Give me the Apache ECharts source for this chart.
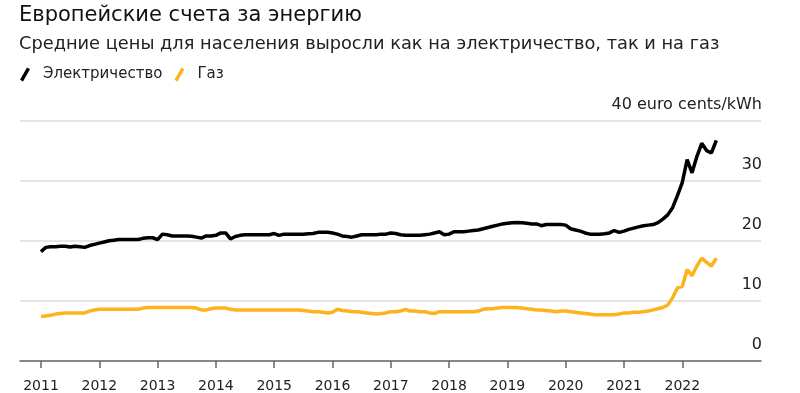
<!DOCTYPE html>
<html>
<head>
<meta charset="utf-8">
<script src="https://cdn.jsdelivr.net/npm/echarts@6/dist/echarts.min.js"></script>
<style>html,body{margin:0;padding:0;background:#fff}#c{width:800px;height:393px}</style>
</head>
<body>
<div id="c"></div>
<script>
// Monthly values, Jan 2011 .. Aug 2022 (euro cents/kWh)
const startYear = 2011;
const electricity = [
  18.2, 18.9, 19.0, 19.0, 19.1, 19.1, 18.95, 19.1, 19.0, 18.9, 19.2, 19.4,
  19.6, 19.8, 20.0, 20.1, 20.2, 20.2, 20.2, 20.2, 20.2, 20.4, 20.5, 20.5,
  20.2, 21.1, 21.0, 20.8, 20.8, 20.8, 20.8, 20.75, 20.6, 20.45, 20.8, 20.8,
  20.9, 21.3, 21.3, 20.3, 20.7, 20.9, 21.0, 21.0, 21.0, 21.0, 21.0, 21.0,
  21.2, 20.9, 21.1, 21.1, 21.1, 21.1, 21.1, 21.15, 21.2, 21.4, 21.4, 21.4,
  21.3, 21.1, 20.8, 20.7, 20.6, 20.8, 21.0, 21.0, 21.0, 21.0, 21.1, 21.1,
  21.3, 21.2, 21.0, 20.9, 20.9, 20.9, 20.9, 21.0, 21.1, 21.3, 21.5, 21.0,
  21.1, 21.5, 21.5, 21.5, 21.6, 21.7, 21.8, 22.0, 22.2, 22.4, 22.6, 22.8,
  22.9, 23.0, 23.05, 23.0, 22.9, 22.8, 22.8, 22.5, 22.7, 22.7, 22.7, 22.7,
  22.6, 22.0, 21.8, 21.6, 21.3, 21.1, 21.1, 21.1, 21.15, 21.3, 21.7, 21.4,
  21.6, 21.9, 22.1, 22.3, 22.5, 22.6, 22.7, 23.0, 23.6, 24.3, 25.5, 27.5,
  29.7, 33.5, 31.3, 34.0, 36.2, 35.0, 34.6, 36.7
];
const gas = [
  7.4, 7.5, 7.6, 7.8, 7.9, 8.0, 8.0, 8.0, 8.0, 8.0, 8.3, 8.5,
  8.6, 8.6, 8.6, 8.6, 8.6, 8.6, 8.6, 8.6, 8.6, 8.8, 8.9, 8.9,
  8.9, 8.9, 8.9, 8.9, 8.9, 8.9, 8.9, 8.9, 8.8, 8.5, 8.5, 8.7,
  8.8, 8.8, 8.8, 8.6, 8.5, 8.5, 8.5, 8.5, 8.5, 8.5, 8.5, 8.5,
  8.5, 8.5, 8.5, 8.5, 8.5, 8.5, 8.4, 8.3, 8.2, 8.2, 8.1, 8.0,
  8.1, 8.6, 8.4, 8.3, 8.2, 8.2, 8.1, 8.0, 7.9, 7.8, 7.9, 8.0,
  8.2, 8.2, 8.3, 8.6, 8.3, 8.3, 8.2, 8.2, 8.0, 7.9, 8.2, 8.2,
  8.2, 8.2, 8.2, 8.2, 8.2, 8.2, 8.3, 8.6, 8.7, 8.7, 8.8, 8.9,
  8.9, 8.9, 8.9, 8.8, 8.7, 8.6, 8.5, 8.5, 8.4, 8.3, 8.2, 8.3,
  8.3, 8.2, 8.1, 8.0, 7.9, 7.8, 7.7, 7.7, 7.7, 7.7, 7.7, 7.8,
  8.0, 8.0, 8.1, 8.1, 8.2, 8.3, 8.5, 8.7, 8.9, 9.3, 10.5, 12.2,
  12.4, 15.2, 14.2, 15.8, 17.1, 16.4, 15.8, 17.1
];
const yearTicks = [2011, 2012, 2013, 2014, 2015, 2016, 2017, 2018, 2019, 2020, 2021, 2022];
const yTicks = [0, 10, 20, 30, 40];
const seriesNames = ['Электричество', 'Газ'];
const titleText = 'Европейские счета за энергию';
const subtitleText = 'Средние цены для населения выросли как на электричество, так и на газ';
const unitText = 'euro cents/kWh';

const monthX = electricity.map((_, i) => startYear + i / 12);
const pair = arr => arr.map((v, i) => [monthX[i], v]);

const FONT = 'DejaVu Sans, Liberation Sans, sans-serif';
const slash = 'path://M7,0 L10,1.8 L3,14 L0,12.2 Z';

const chart = echarts.init(document.getElementById('c'));
chart.setOption({
  animation: false,
  title: [
    { text: titleText, left: 19, top: 5, padding: 0,
      textStyle: { fontFamily: FONT, fontSize: 21, fontWeight: 'normal', color: '#111' } },
    { text: subtitleText, left: 19, top: 35, padding: 0,
      textStyle: { fontFamily: FONT, fontSize: 17.8, fontWeight: 'normal', color: '#222' } }
  ],
  legend: {
    left: 20, top: 67, padding: 0, itemGap: 12, itemWidth: 10, itemHeight: 14,
    icon: slash,
    data: seriesNames,
    textStyle: { fontFamily: FONT, fontSize: 15, color: '#222', padding: [0, 0, 0, 8] }
  },
  grid: { left: 20, right: 39, top: 120.5, bottom: 32 },
  xAxis: {
    type: 'value', min: 2010.64, max: 2023.35,
    splitLine: { show: false },
    axisLine: { show: true, lineStyle: { color: '#666', width: 1.5 } },
    axisTick: { show: true, length: 7, customValues: yearTicks, lineStyle: { color: '#666', width: 1.5 } },
    axisLabel: { customValues: yearTicks, formatter: v => String(Math.round(v)),
      fontFamily: FONT, fontSize: 14, color: '#222', margin: 18 }
  },
  yAxis: {
    type: 'value', position: 'right', min: 0, max: 40, interval: 10,
    axisLine: { show: false }, axisTick: { show: false },
    splitLine: { lineStyle: { color: '#dcdcdc', width: 1.5 } },
    axisLabel: {
      inside: true, margin: -1, align: 'right', verticalAlign: 'bottom',
      padding: [0, 0, 8, 0],
      fontFamily: FONT, fontSize: 16, color: '#222',
      formatter: v => v === 40 ? v + ' ' + unitText : String(v)
    }
  },
  series: [
    { name: seriesNames[0], type: 'line', data: pair(electricity), showSymbol: false,
      itemStyle: { color: '#000' }, lineStyle: { color: '#000', width: 3.5 }, z: 3 },
    { name: seriesNames[1], type: 'line', data: pair(gas), showSymbol: false,
      itemStyle: { color: '#fcb31c' }, lineStyle: { color: '#fcb31c', width: 3.5 }, z: 2 }
  ]
});
</script>
</body>
</html>
